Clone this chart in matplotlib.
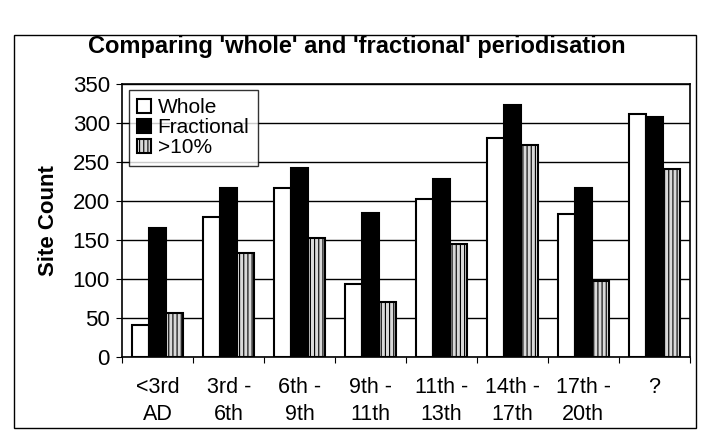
import matplotlib.pyplot as plt
import numpy as np
from matplotlib.patches import Rectangle

plt.rcParams['font.family'] = ['Liberation Sans', 'DejaVu Sans']
plt.rcParams['hatch.color'] = '#555555'
plt.rcParams['hatch.linewidth'] = 0.8

periods = ['<3rd\nAD', '3rd -\n6th', '6th -\n9th', '9th -\n11th',
           '11th -\n13th', '14th -\n17th', '17th -\n20th', '?']
whole = [41, 180, 216, 94, 203, 281, 183, 311]
fractional = [165, 216, 242, 184, 228, 323, 216, 307]
over10 = [57, 133, 153, 71, 145, 272, 98, 241]

fig = plt.figure(figsize=(7.03, 4.41), dpi=100)
ax = fig.add_axes([0.174, 0.19, 0.807, 0.62])

x = np.arange(len(periods))
w = 0.24
ax.bar(x - w, whole, w, color='white', edgecolor='black', linewidth=1.5, label='Whole', zorder=3)
ax.bar(x, fractional, w, color='black', edgecolor='black', linewidth=1.5, label='Fractional', zorder=3)
ax.bar(x + w, over10, w, color='#d9d9d9', edgecolor='black', linewidth=1.5,
       hatch='||||', label='>10%', zorder=3)

ax.set_ylim(0, 350)
ax.set_xlim(-0.5, len(periods) - 0.5)
ax.set_yticks(range(0, 351, 50))
ax.yaxis.grid(True, color='black', linewidth=1)
ax.set_axisbelow(True)
ax.set_xticks(np.arange(-0.5, len(periods), 1))
ax.set_xticklabels([])
ax.set_xticks(x, minor=True)
ax.set_xticklabels(periods, minor=True, fontsize=15.5, linespacing=1.4)
ax.tick_params(axis='x', which='minor', length=0, pad=14)
ax.tick_params(axis='x', which='major', length=4, direction='out')
ax.tick_params(axis='y', labelsize=16, length=4, direction='out', pad=5)
for s in ax.spines.values():
    s.set_linewidth(1.2)

ax.set_ylabel('Site Count', fontsize=16, fontweight='bold', labelpad=10)
fig.text(0.508, 0.895, "Comparing 'whole' and 'fractional' periodisation",
         ha='center', va='center', fontsize=17, fontweight='bold')

leg = ax.legend(loc='upper left', fontsize=15, frameon=True, fancybox=False,
                handlelength=0.7, handleheight=0.7, handletextpad=0.3,
                borderaxespad=0.3, labelspacing=0.05, borderpad=0.4)
leg.get_frame().set_edgecolor('black')
leg.get_frame().set_linewidth(1)

fig.patches.append(Rectangle((0.02, 0.03), 0.97, 0.89, transform=fig.transFigure,
                             fill=False, edgecolor='black', linewidth=1))

fig.savefig('out.png', dpi=100)
